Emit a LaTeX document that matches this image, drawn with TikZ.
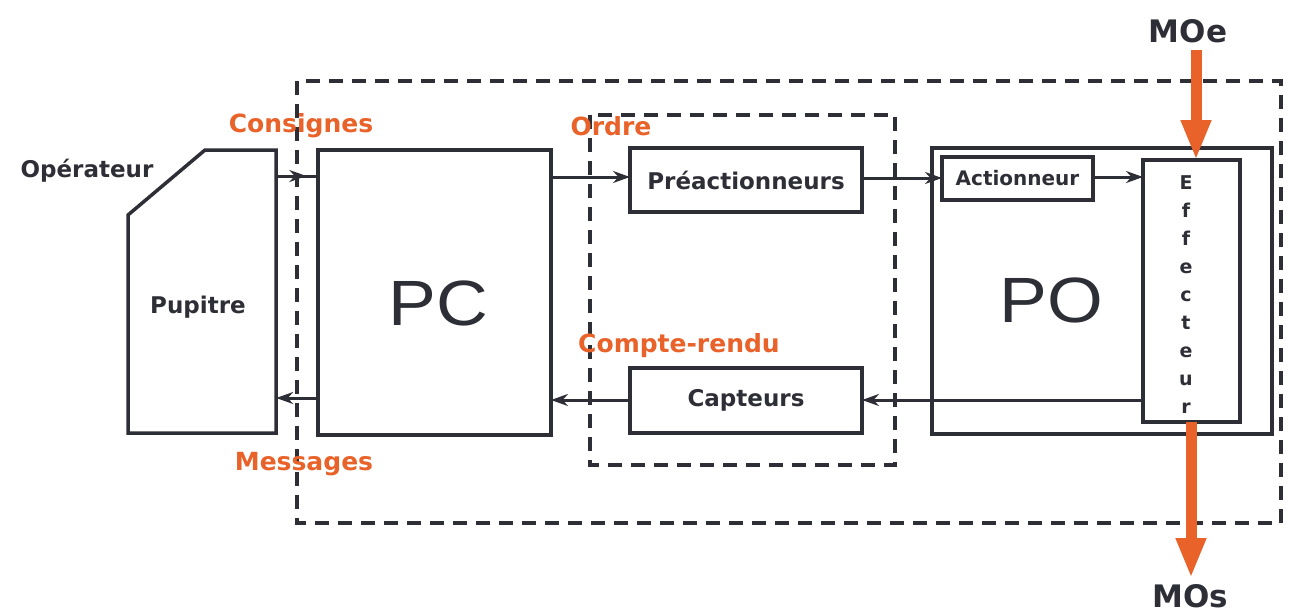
\documentclass[tikz,border=0pt]{standalone}
\usepackage{fontspec}
\usetikzlibrary{arrows.meta,decorations.markings}
\newfontfamily\dvfont{DejaVu Sans}
\newfontfamily\pcfont[FakeStretch=1.12]{Liberation Sans}
\definecolor{ink}{HTML}{2E2E36}
\definecolor{lab}{HTML}{E8622A}
\begin{document}
\begin{tikzpicture}[x=1pt,y=-1pt,
  box/.style={draw=ink, line width=3.5pt, inner sep=0pt, outer sep=0pt, fill=none},
  lbl/.style={text=ink, inner sep=0pt, font=\dvfont\bfseries\fontsize{23}{28}\selectfont},
  small/.style={text=ink, inner sep=0pt, font=\dvfont\bfseries\fontsize{20}{24}\selectfont},
  letter/.style={text=ink, inner sep=0pt, font=\dvfont\bfseries\fontsize{19}{22}\selectfont},
  olbl/.style={text=lab, inner sep=0pt, font=\dvfont\bfseries\fontsize{25}{30}\selectfont},
  molbl/.style={text=ink, inner sep=0pt, font=\dvfont\bfseries\fontsize{31}{36}\selectfont},
  bigtxt/.style={text=ink, inner sep=0pt, font=\pcfont\fontsize{64}{70}\selectfont},
  frame/.style={draw=ink, line width=4pt, dash pattern=on 14pt off 9pt},
  conn/.style={draw=ink, line width=3pt, -{Stealth[length=17pt,width=12pt]}},
  midconn/.style={draw=ink, line width=3pt, postaction={decorate},
    decoration={markings, mark=at position #1 with {\arrow{Stealth[length=17pt,width=12pt]}}}},
  oarrow/.style={draw=lab, line width=11pt, -{Triangle[length=40pt,width=28pt]}}
]
\useasboundingbox (0,0) rectangle (1302,614);

% dashed frames
\draw[frame] (297,81) rectangle (1281,523);
\draw[frame] (590,115) rectangle (895,465);

% Pupitre
\node[inner sep=0pt, minimum width=148pt, minimum height=283pt] (pup) at (202,291.5) {};
\draw[ink, line width=3.5pt, line join=miter] (128,215) -- (205,150) -- (276,150) -- (276,433) -- (128,433) -- cycle;
\node[lbl, anchor=base] (puptxt) at (198,313) {Pupitre};
\node[lbl, anchor=base] (oper) at (87,177) {Opérateur};

% boxes
\node[box, minimum width=233pt, minimum height=285pt] (pc) at (434.5,292.5) {};
\node[bigtxt, anchor=base] (pctxt) at (438,325) {PC};
\node[box, minimum width=232pt, minimum height=64pt, lbl] (pre) at (746,180) {Préactionneurs};
\node[box, minimum width=232pt, minimum height=65pt, lbl] (cap) at (746,400.5) {Capteurs};
\node[box, minimum width=340pt, minimum height=286pt] (po) at (1102,291) {};
\node[bigtxt, anchor=base] (potxt) at (1051,322) {PO};
\node[box, minimum width=151pt, minimum height=43pt, small] (act) at (1017.5,178.5) {Actionneur};
\node[box, minimum width=97pt, minimum height=262pt] (eff) at (1191.5,291) {};
\foreach \l [count=\i] in {E,f,f,e,c,t,e,u,r}
  \node[letter, anchor=base] (effl\i) at (1186,{189+28.1*(\i-1)}) {\l};

% connectors top
\draw[midconn=0.72] (pup.east |- 0,176) -- (pc.west |- 0,176);
\draw[conn] (pc.east |- 0,177) -- (pre.west |- 0,177);
\draw[conn] (pre.east |- 0,178) -- (act.west |- 0,178);
\draw[conn] (act.east |- 0,177) -- (eff.west |- 0,177);
% connectors bottom
\draw[conn] (eff.west |- 0,400) -- (cap.east |- 0,400);
\draw[conn] (cap.west |- 0,400) -- (pc.east |- 0,400);
\draw[conn] (pc.west |- 0,398) -- (pup.east |- 0,398);

% orange labels
\node[olbl, anchor=base] (consignes) at (301,132) {Consignes};
\node[olbl, anchor=base] (ordre) at (611,135) {Ordre};
\node[olbl, anchor=base] (cr) at (679,352) {Compte-rendu};
\node[olbl, anchor=base] (messages) at (304,470) {Messages};

% MOe / MOs
\node[molbl, anchor=base] (moe) at (1188,42) {MOe};
\node[molbl, anchor=base] (mos) at (1190,607) {MOs};
\coordinate (moestart) at (1196,50);
\draw[oarrow] (moestart) -- (moestart |- eff.north);
\coordinate (mosend) at (1191,578);
\draw[oarrow] (mosend |- eff.south) -- (mosend);
\end{tikzpicture}
\end{document}
